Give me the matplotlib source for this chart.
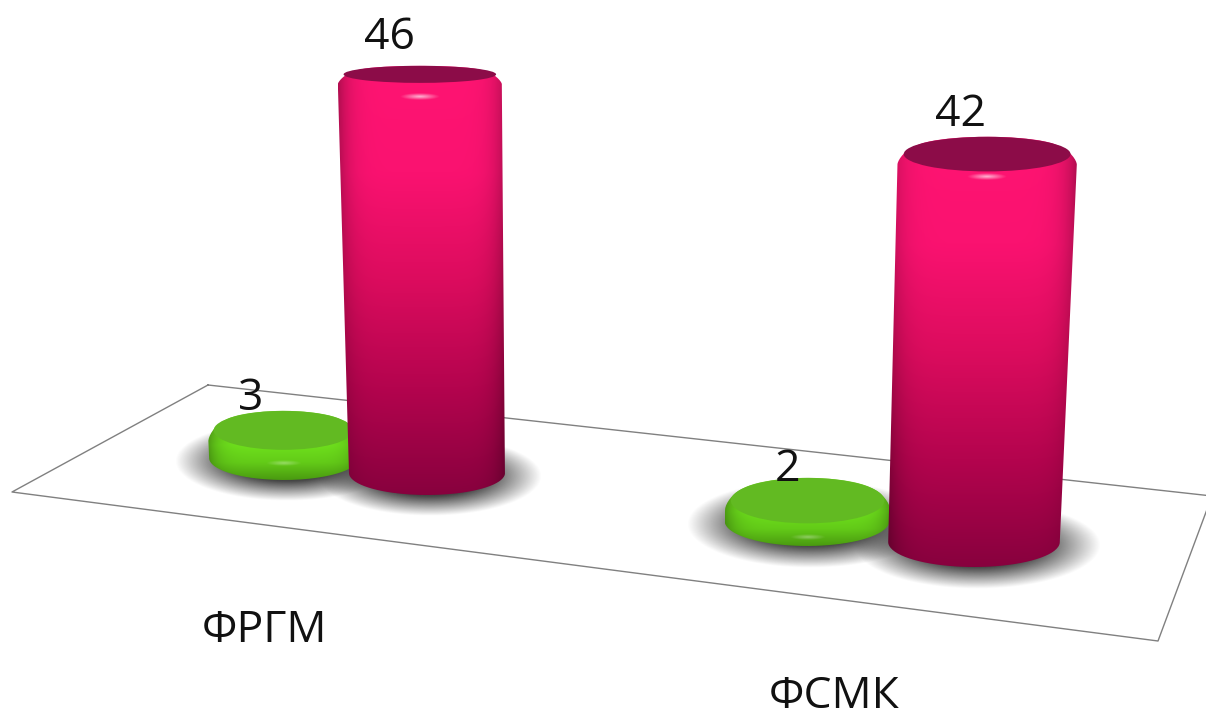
import numpy as np
import matplotlib
matplotlib.use("Agg")
import matplotlib.pyplot as plt
from matplotlib.patches import Ellipse, PathPatch
from matplotlib.path import Path

categories = ['ФРГМ', 'ФСМК']
green_values = [3, 2]
pink_values = [46, 42]

plt.rcParams['font.family'] = ['Open Sans', 'DejaVu Sans']

#scene settings, one entry per category (the 3d view is not the same everywhere)
cat_px_per_unit = [8.65, 9.2]
cat_depth = [1.0, 1.1]
cat_ry = [22, 25]
cat_squash = [0.032, 0.016]
cat_lean = [-0.018, 0.034]
label_xy = [(265, 631), (834, 697)]

pink_stops = ['#ff1472', '#fa1270', '#dc0c5e', '#b4044e', '#88013e']
pink_cap = '#8c0c48'
green_stops = ['#6fc822', '#6fd420', '#6ee01c', '#63cb18', '#4a9a10']
green_cap = '#62ba22'


def hex_rgb(c):
    return np.array(matplotlib.colors.to_rgb(c))


def floor_xy(i, j):
    #position on the floor for category i, series j
    return (284 + 523 * i + j * (143 + 24 * i), 458 + 63 * i + j * (15 + 6 * i))


def soft_spot(ax, cx, cy, rx, ry, color, peak, soft, zorder):
    xs = np.linspace(cx - rx, cx + rx, 200)
    ys = np.linspace(cy - ry, cy + ry, 120)
    xx, yy = np.meshgrid(xs, ys)
    d = np.sqrt(((xx - cx) / rx) ** 2 + ((yy - cy) / ry) ** 2)
    img = np.zeros(d.shape + (4,))
    img[..., :3] = hex_rgb(color)
    img[..., 3] = peak * np.clip((1 - d) / soft, 0, 1)
    ax.imshow(img, extent=(cx - rx, cx + rx, cy + ry, cy - ry), aspect='auto',
              interpolation='bilinear', zorder=zorder)


def cylinder(ax, i, j, value, stops, cap, zorder):
    bx, by = floor_xy(i, j)
    rx = 78 * cat_depth[i] * (0.96 if j == 0 else 1.0)
    ry = cat_ry[i]
    h = value * cat_px_per_unit[i]
    tx = bx + h * cat_lean[i]
    ty = by - h
    trx = rx + h * 0.01
    try_ = ry - h * cat_squash[i]
    shoulder = min(9, h * 0.4)

    #outline: top half of upper ellipse with rounded shoulders, then lower half of base ellipse
    t = np.linspace(np.pi, 2 * np.pi, 80)
    top_pts = np.column_stack([tx + trx * np.cos(t),
                               ty + try_ * np.sin(t) + shoulder * np.abs(np.cos(t)) ** 8])
    t2 = np.linspace(0, np.pi, 80)
    base_pts = np.column_stack([bx + rx * np.cos(t2), by + ry * np.sin(t2)])
    pts = np.vstack([top_pts, base_pts, top_pts[:1]])
    patch = PathPatch(Path(pts), fc='none', ec='none', zorder=zorder)
    ax.add_patch(patch)

    x0, x1 = pts[:, 0].min(), pts[:, 0].max()
    y0, y1 = pts[:, 1].min(), pts[:, 1].max()
    v = np.linspace(0, 1, 200)
    cols = np.array([hex_rgb(c) for c in stops])
    pos = np.linspace(0, 1, len(stops))
    grad = np.column_stack([np.interp(v, pos, cols[:, k]) for k in range(3)])
    u = np.linspace(-1, 1, 200)
    shade = 1 - 0.3 * np.abs(u) ** 7
    img = grad[:, None, :] * shade[None, :, None]
    im = ax.imshow(img, extent=(x0, x1, y1, y0), aspect='auto', interpolation='bilinear', zorder=zorder)
    im.set_clip_path(patch)

    #cap sits a bit inside the silhouette, touching its top edge
    in_rx = trx * 0.93
    in_ry = try_ * 0.92
    ax.add_patch(Ellipse((tx, ty - (try_ - in_ry)), 2 * in_rx, 2 * in_ry, fc=cap, ec='none', zorder=zorder + 0.1))

    #small glare below the cap
    if h > 60:
        soft_spot(ax, tx, ty + 21, 20, 3.5, '#ffffff', 0.7, 1.0, zorder + 0.2)
    else:
        soft_spot(ax, tx, ty + try_ + 10, 18, 3, '#ffffff', 0.35, 1.0, zorder + 0.2)


fig = plt.figure(figsize=(12.06, 7.18), dpi=100)
ax = fig.add_axes([0, 0, 1, 1])

#floor
floor_x = [208, 1212, 1158, 12, 208]
floor_y = [385, 496, 641, 492, 385]
ax.plot(floor_x, floor_y, color='#808080', lw=1.0, zorder=1)

#shadows
for i in range(len(categories)):
    for j in range(2):
        bx, by = floor_xy(i, j)
        soft_spot(ax, bx + 3, by + 3, 112 * cat_depth[i], 40 * cat_depth[i], '#444444', 1.0, 0.5, 2)

#bars
for i in range(len(categories)):
    cylinder(ax, i, 0, green_values[i], green_stops, green_cap, 3)
    cylinder(ax, i, 1, pink_values[i], pink_stops, pink_cap, 4)

#value labels, just above each top
label_off = [[(-33, -33), (-30, -37)], [(-20, -33), (-27, -41)]]
for i in range(len(categories)):
    for j, vals in enumerate([green_values, pink_values]):
        bx, by = floor_xy(i, j)
        h = vals[i] * cat_px_per_unit[i]
        tx = bx + h * cat_lean[i]
        ax.text(tx + label_off[i][j][0], by - h + label_off[i][j][1], str(vals[i]), fontsize=32,
                color='#111111', ha='center', va='center', zorder=6)

for name, (lx, ly) in zip(categories, label_xy):
    ax.text(lx, ly, name, fontsize=32, color='#111111', ha='center', va='center', zorder=6)

ax.set_xlim(0, 1206)
ax.set_ylim(718, 0)
ax.axis('off')
fig.savefig('out.png', dpi=100, facecolor='white')
